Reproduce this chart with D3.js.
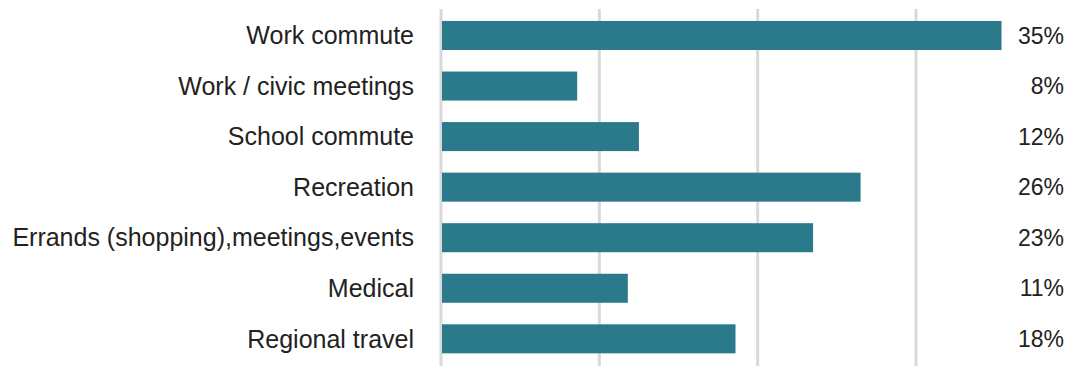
<!DOCTYPE html>
<html>
<head>
<meta charset="utf-8">
<script src="https://cdn.jsdelivr.net/npm/d3@7"></script>
<style>
  html, body { margin: 0; padding: 0; background: #ffffff; }
  svg { display: block; }
  text { font-family: "Liberation Sans", Arial, sans-serif; fill: #222222; }
</style>
</head>
<body>
<svg id="chart" width="1071" height="366"></svg>
<script>
const categories = ["Work commute", "Work / civic meetings", "School commute", "Recreation",
  "Errands (shopping),meetings,events", "Medical", "Regional travel"];
const values = [35.4, 8.6, 12.5, 26.5, 23.5, 11.8, 18.6];
const valueLabels = ["35%", "8%", "12%", "26%", "23%", "11%", "18%"];
const gridTicks = [0, 10, 20, 30];

const svg = d3.select("#chart");
const W = 1071, H = 366;

const x = d3.scaleLinear().domain([0, 30]).range([441, 916]);
const y = d3.scaleBand().domain(categories).range([10.2, 364.1])
  .paddingInner(0.426).paddingOuter(0.213);

// gridlines
svg.append("g").selectAll("line").data(gridTicks).join("line")
  .attr("x1", d => x(d)).attr("x2", d => x(d))
  .attr("y1", 9).attr("y2", H)
  .attr("stroke", "#d9d9d9").attr("stroke-width", 3);

// bars
svg.append("g").selectAll("rect").data(values).join("rect")
  .attr("x", x(0) + 1)
  .attr("y", (d, i) => y(categories[i]))
  .attr("width", d => x(d) - x(0) - 1)
  .attr("height", y.bandwidth())
  .attr("fill", "#2a7a8b");

// category labels
svg.append("g").selectAll("text").data(categories).join("text")
  .attr("x", 414)
  .attr("y", d => y(d) + y.bandwidth() / 2)
  .attr("dy", "0.35em")
  .attr("text-anchor", "end")
  .style("font-size", "25px")
  .text(d => d);

// value labels
svg.append("g").selectAll("text").data(valueLabels).join("text")
  .attr("x", 1064)
  .attr("y", (d, i) => y(categories[i]) + y.bandwidth() / 2)
  .attr("dy", "0.35em")
  .attr("text-anchor", "end")
  .style("font-size", "23px")
  .text(d => d);
</script>
</body>
</html>
